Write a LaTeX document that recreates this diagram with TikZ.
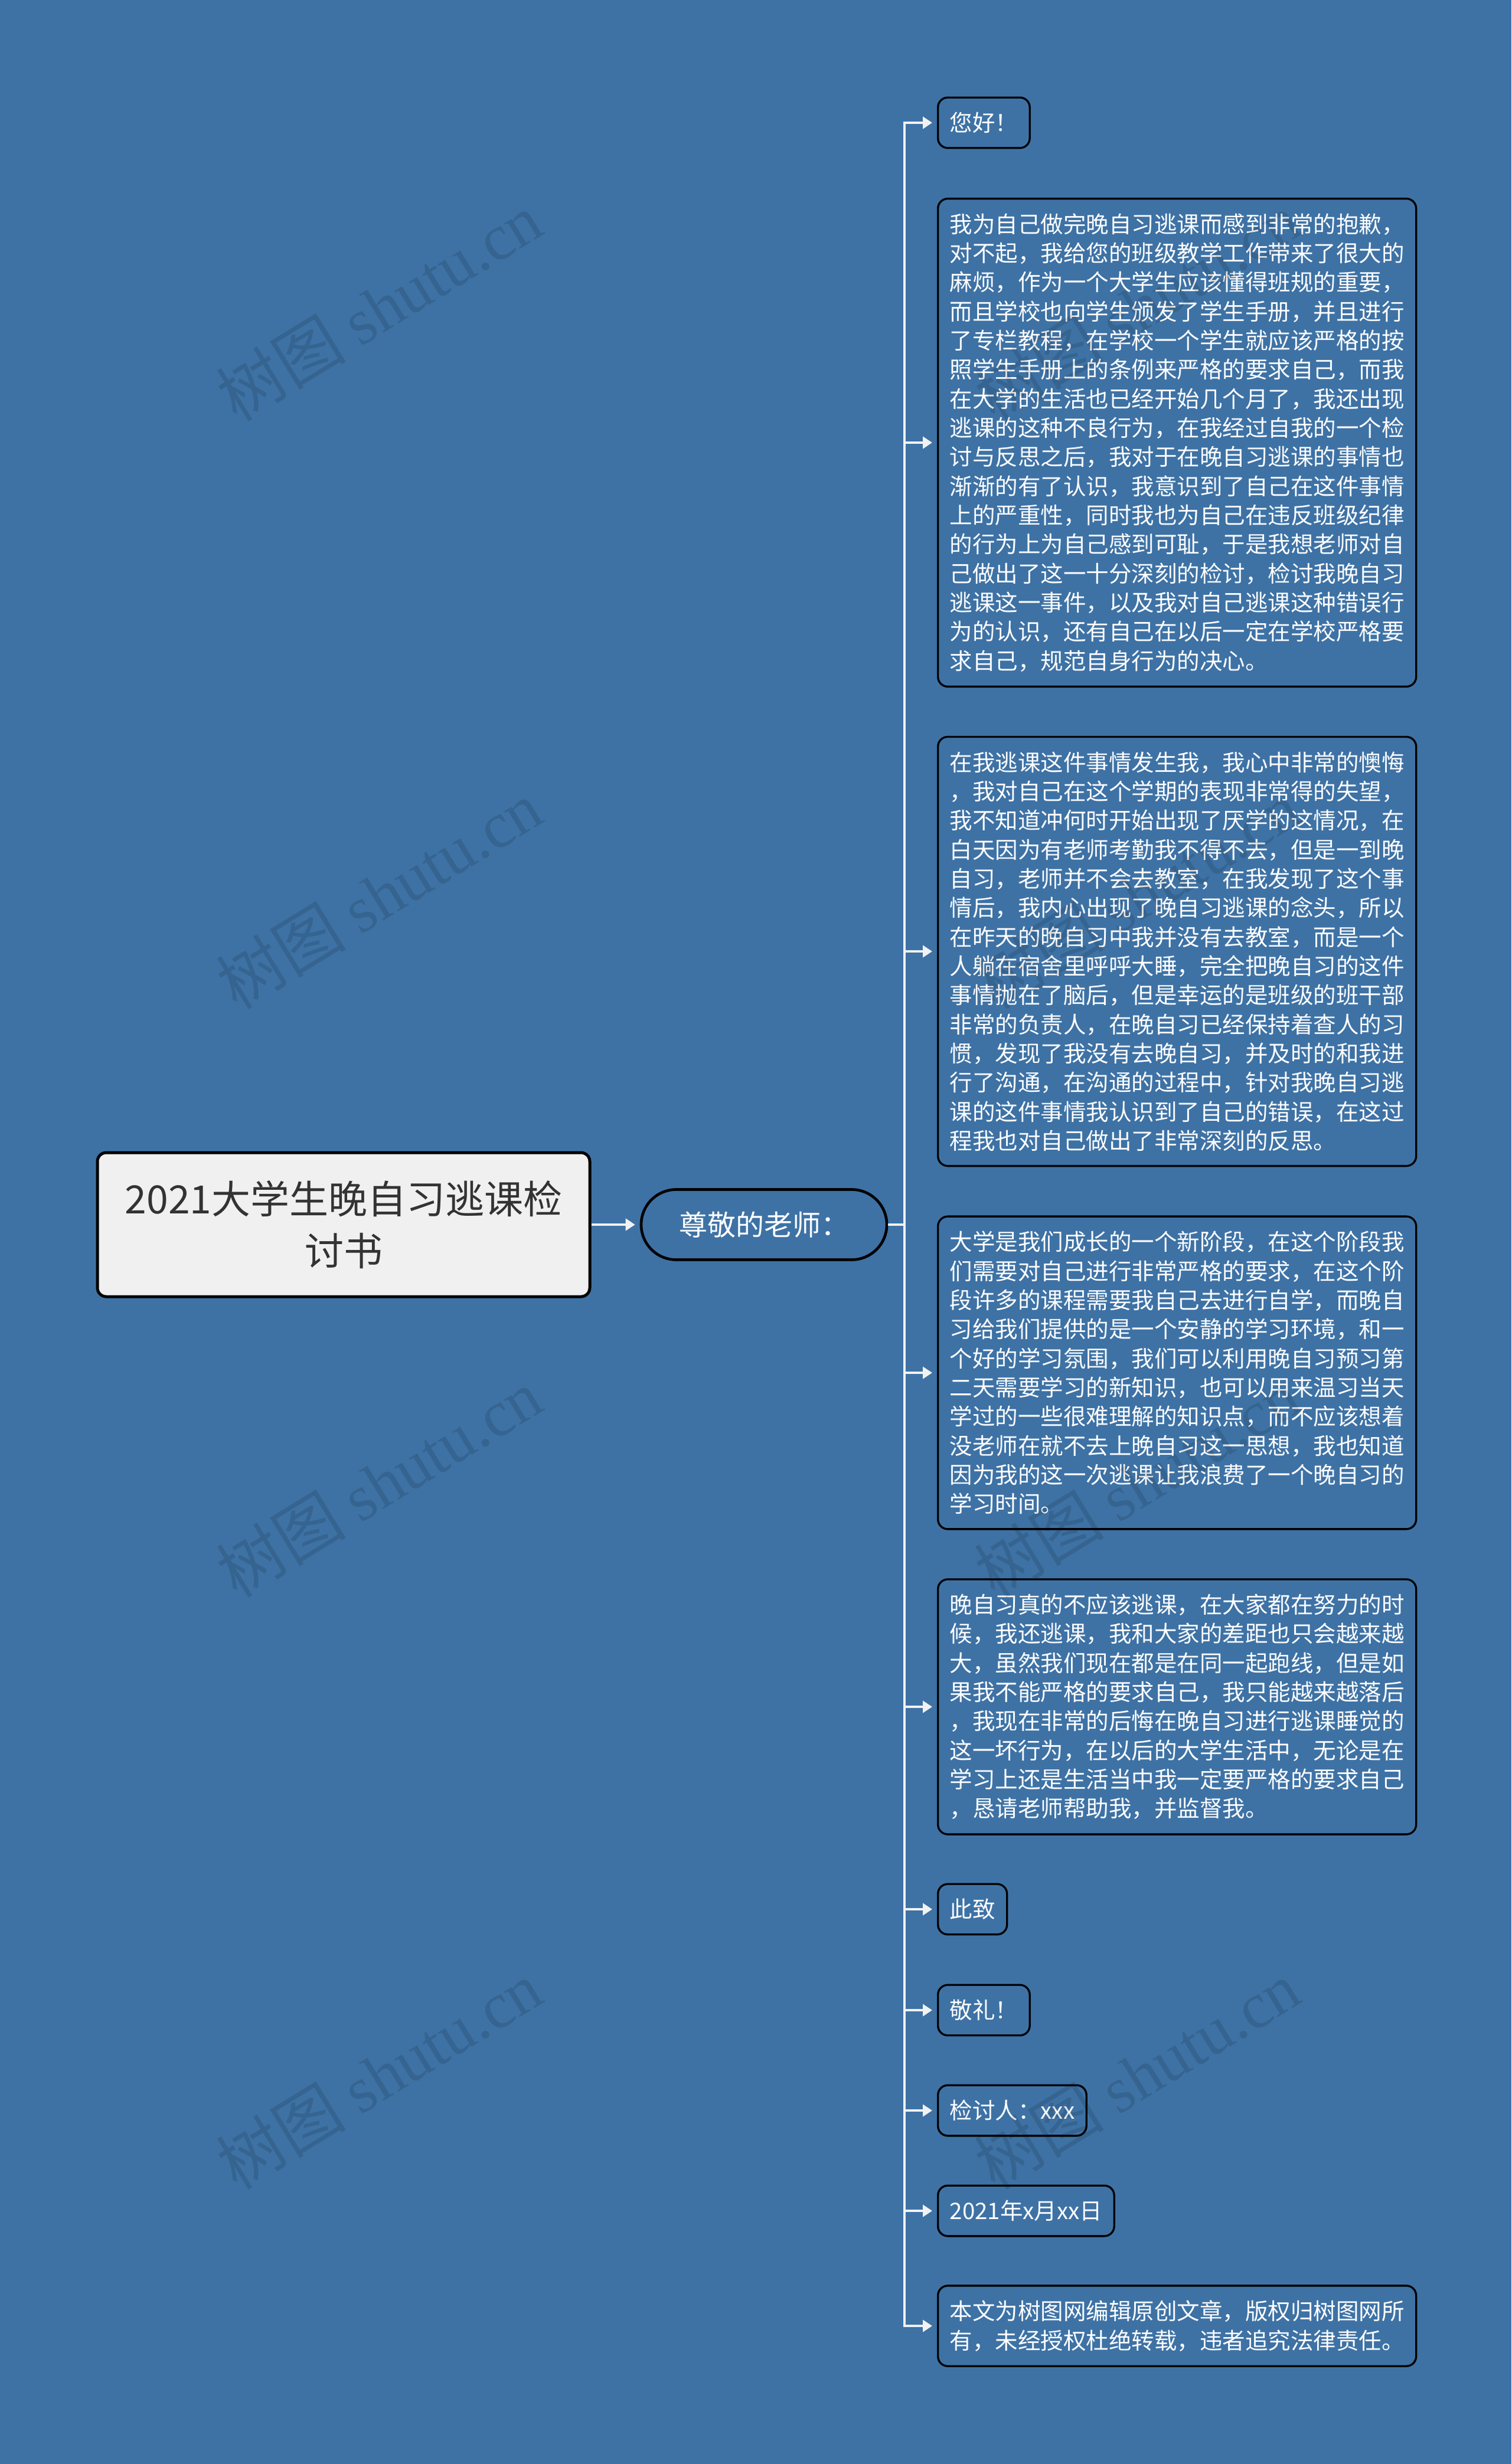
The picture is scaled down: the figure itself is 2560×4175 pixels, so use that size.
\documentclass[tikz,border=0pt]{standalone}
\usepackage{fontspec}
\setmainfont{Noto Sans CJK SC}
\newfontfamily\wmfont{Liberation Serif}
\usetikzlibrary{arrows.meta}

\definecolor{bgblue}{HTML}{3E72A5}
\definecolor{lineclr}{HTML}{F2F2F2}
\definecolor{rootfill}{HTML}{F0F0F0}
\definecolor{roottext}{HTML}{333333}

\tikzstyle{root} = [draw=black, line width=1.5pt, rounded corners=4.5pt, fill=rootfill, text=roottext, minimum width=250.2pt, minimum height=73.2pt, align=center, font=\fontsize{19.8pt}{26.4pt}\selectfont]
\tikzstyle{sub} = [draw=black, line width=1.4pt, rounded corners=17.8pt, fill=bgblue, text=white, minimum width=124.8pt, minimum height=35.7pt, font=\fontsize{14.4pt}{18pt}\selectfont]
\tikzstyle{leaf} = [draw=black, line width=1pt, rounded corners=5pt, text=white, anchor=west, align=left, inner xsep=6pt, inner ysep=7.5pt, font=\fontsize{11.55pt}{14.8pt}\selectfont]
\tikzstyle{link} = [draw=lineclr, line width=1.35pt, -{Triangle[length=4.8pt,width=6pt]}, shorten >=2.4pt]
\tikzstyle{trunk} = [draw=lineclr, line width=1.35pt]
\tikzstyle{wmark} = [rotate=31.5, text=black, opacity=0.12, font=\fontsize{33pt}{33pt}\selectfont]

\begin{document}
\begin{tikzpicture}[x=0.3pt, y=-0.3pt]
\useasboundingbox (0,0) rectangle (2560,4175);
\fill[bgblue] (0,0) rectangle (2560,4175);

% Title and greeting
\node (title) [root] at (582,2075) {2021大学生晚自习逃课检\\讨书};
\node (mid) [sub] at (1294,2075) {尊敬的老师：};
\coordinate (jn) at (1532,2075);

% Letter
\node (greet) [leaf] at (1587,208) {您好！};
\node (p1) [leaf] at (1587,750) {我为自己做完晚自习逃课而感到非常的抱歉，\\
对不起，我给您的班级教学工作带来了很大的\\
麻烦，作为一个大学生应该懂得班规的重要，\\
而且学校也向学生颁发了学生手册，并且进行\\
了专栏教程，在学校一个学生就应该严格的按\\
照学生手册上的条例来严格的要求自己，而我\\
在大学的生活也已经开始几个月了，我还出现\\
逃课的这种不良行为，在我经过自我的一个检\\
讨与反思之后，我对于在晚自习逃课的事情也\\
渐渐的有了认识，我意识到了自己在这件事情\\
上的严重性，同时我也为自己在违反班级纪律\\
的行为上为自己感到可耻，于是我想老师对自\\
己做出了这一十分深刻的检讨，检讨我晚自习\\
逃课这一事件，以及我对自己逃课这种错误行\\
为的认识，还有自己在以后一定在学校严格要\\
求自己，规范自身行为的决心。};
\node (p2) [leaf] at (1587,1612) {在我逃课这件事情发生我，我心中非常的懊悔\\
，我对自己在这个学期的表现非常得的失望，\\
我不知道冲何时开始出现了厌学的这情况，在\\
白天因为有老师考勤我不得不去，但是一到晚\\
自习，老师并不会去教室，在我发现了这个事\\
情后，我内心出现了晚自习逃课的念头，所以\\
在昨天的晚自习中我并没有去教室，而是一个\\
人躺在宿舍里呼呼大睡，完全把晚自习的这件\\
事情抛在了脑后，但是幸运的是班级的班干部\\
非常的负责人，在晚自习已经保持着查人的习\\
惯，发现了我没有去晚自习，并及时的和我进\\
行了沟通，在沟通的过程中，针对我晚自习逃\\
课的这件事情我认识到了自己的错误，在这过\\
程我也对自己做出了非常深刻的反思。};
\node (p3) [leaf] at (1587,2326) {大学是我们成长的一个新阶段，在这个阶段我\\
们需要对自己进行非常严格的要求，在这个阶\\
段许多的课程需要我自己去进行自学，而晚自\\
习给我们提供的是一个安静的学习环境，和一\\
个好的学习氛围，我们可以利用晚自习预习第\\
二天需要学习的新知识，也可以用来温习当天\\
学过的一些很难理解的知识点，而不应该想着\\
没老师在就不去上晚自习这一思想，我也知道\\
因为我的这一次逃课让我浪费了一个晚自习的\\
学习时间。};
\node (p4) [leaf] at (1587,2892) {晚自习真的不应该逃课，在大家都在努力的时\\
候，我还逃课，我和大家的差距也只会越来越\\
大，虽然我们现在都是在同一起跑线，但是如\\
果我不能严格的要求自己，我只能越来越落后\\
，我现在非常的后悔在晚自习进行逃课睡觉的\\
这一坏行为，在以后的大学生活中，无论是在\\
学习上还是生活当中我一定要严格的要求自己\\
，恳请老师帮助我，并监督我。};
\node (close1) [leaf] at (1587,3235) {此致};
\node (close2) [leaf] at (1587,3406) {敬礼！};
\node (signer) [leaf] at (1587,3576) {检讨人：xxx};
\node (date) [leaf] at (1587,3746) {2021年x月xx日};
\node (note) [leaf] at (1587,3941) {本文为树图网编辑原创文章，版权归树图网所\\
有，未经授权杜绝转载，违者追究法律责任。};

% Connectors
\draw [link] (title) -- (mid);
\draw [trunk] (mid.east) -- (jn);
\draw [link] (jn) |- (greet.west);
\draw [link] (jn) |- (p1.west);
\draw [link] (jn) |- (p2.west);
\draw [link] (jn) |- (p3.west);
\draw [link] (jn) |- (p4.west);
\draw [link] (jn) |- (close1.west);
\draw [link] (jn) |- (close2.west);
\draw [link] (jn) |- (signer.west);
\draw [link] (jn) |- (date.west);
\draw [link] (jn) |- (note.west);

% Watermarks
\node (wm1) [wmark] at (642,520) {树图 {\wmfont shutu.cn}};
\node (wm2) [wmark] at (642,1516) {树图 {\wmfont shutu.cn}};
\node (wm3) [wmark] at (642,2513) {树图 {\wmfont shutu.cn}};
\node (wm4) [wmark] at (642,3516) {树图 {\wmfont shutu.cn}};
\node (wm5) [wmark] at (1926,520) {树图 {\wmfont shutu.cn}};
\node (wm6) [wmark] at (1926,1516) {树图 {\wmfont shutu.cn}};
\node (wm7) [wmark] at (1926,2513) {树图 {\wmfont shutu.cn}};
\node (wm8) [wmark] at (1926,3516) {树图 {\wmfont shutu.cn}};
\end{tikzpicture}
\end{document}
